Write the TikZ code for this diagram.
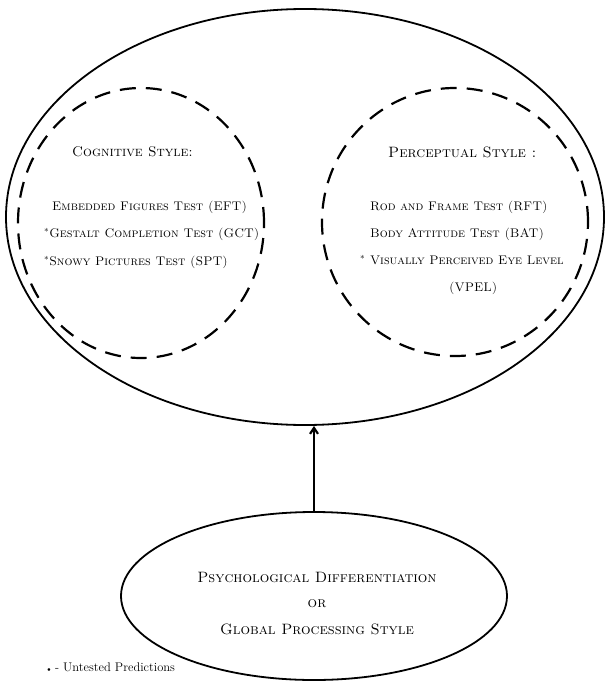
\documentclass[tikz,border=0pt]{standalone}
\usetikzlibrary{shapes.geometric,arrows.meta}
\begin{document}
\begin{tikzpicture}[x=1pt,y=-1pt,
  solidell/.style={draw,line width=1.8pt},
  dashell/.style={draw,line width=2.2pt,dash pattern=on 16pt off 10pt},
  lbl/.style={inner sep=0pt,anchor=west,font=\fontsize{12.5}{14}\selectfont\scshape},
  hdr/.style={inner sep=0pt,anchor=west,font=\fontsize{14}{16}\selectfont\scshape},
  ctr/.style={inner sep=0pt,font=\fontsize{15}{17}\selectfont\scshape}]
\useasboundingbox (0,0) rectangle (607,685);
% outer ellipse
\node[solidell,ellipse,minimum width=598pt,minimum height=416pt,inner sep=0pt] (outer) at (305,217) {};
\node[dashell,ellipse,minimum width=246pt,minimum height=270pt,inner sep=0pt] (cog) at (141,223) {};
\node[dashell,ellipse,minimum width=266pt,minimum height=268pt,inner sep=0pt] (per) at (455,222) {};
\node[solidell,ellipse,minimum width=386pt,minimum height=168pt,inner sep=0pt] (base) at (314,596) {};
\coordinate (tip) at (base.north |- outer.south);
\draw[line width=2.2pt,-{Straight Barb[length=6pt,width=8pt]}] (base.north) -- (tip);
% left texts
\node[hdr] (ch) at (72,152) {Cognitive Style:};
\node[lbl] (c1) at (52,207) {Embedded Figures Test (EFT)};
\node[lbl] (c2) at (44,234) {$^{*}$Gestalt Completion Test (GCT)};
\node[lbl] (c3) at (44,262) {$^{*}$Snowy Pictures Test (SPT)};
% right texts
\node[hdr,font=\fontsize{15}{17}\selectfont\scshape] (ph) at (388,152) {Perceptual Style :};
\node[lbl] (p1) at (370,207) {Rod and Frame Test (RFT)};
\node[lbl] (p2) at (370,234) {Body Attitude Test (BAT)};
\node[lbl] (p3) at (360,260) {$^{*}$ Visually Perceived Eye Level};
\node[lbl] (p4) at (449,288) {(VPEL)};
% bottom
\node[ctr] (b1) at (317,577) {Psychological Differentiation};
\node[ctr] (b2) at (317,604) {or};
\node[ctr] (b3) at (317,629) {Global Processing Style};
\node[inner sep=0pt,anchor=west,font=\fontsize{12.5}{14}\selectfont] (note) at (47,667) {$\scriptscriptstyle\bullet$ - Untested Predictions};
\end{tikzpicture}
\end{document}
